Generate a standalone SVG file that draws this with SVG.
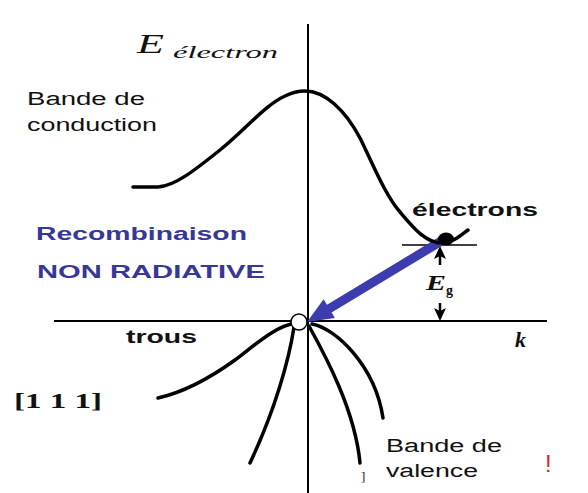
<svg xmlns="http://www.w3.org/2000/svg" width="588" height="493" viewBox="0 0 588 493">
<style>
.band{fill:none;stroke:#000;stroke-width:3.5;stroke-linecap:round;stroke-linejoin:round}
.axis{fill:none;stroke:#000;stroke-width:2}
.thin{fill:none;stroke:#000;stroke-width:1.3}
.head{fill:#000}
.sans{font-family:"Liberation Sans",Arial,sans-serif;fill:#111}
.bold{font-family:"Liberation Sans",Arial,sans-serif;font-weight:bold;fill:#111}
.blue{font-family:"Liberation Sans",Arial,sans-serif;font-weight:bold;fill:#373797}
.serif{font-family:"Liberation Serif","Times New Roman",serif;fill:#111}
</style>
<rect width="588" height="493" fill="#fff"/>
<g id="connectors">
<line class="axis" x1="308" y1="24" x2="308" y2="493"/>
<line class="axis" x1="54" y1="321" x2="547" y2="321"/>
<line class="thin" x1="402" y1="245" x2="477" y2="245"/>
<line x1="440" y1="265" x2="440" y2="255" stroke="#000" stroke-width="2.5"/>
<polygon class="head" points="440,246 446,259 440,256 434,259"/>
<line x1="440" y1="303" x2="440" y2="312" stroke="#000" stroke-width="2.5"/>
<polygon class="head" points="440,321 446,308 440,311 434,308"/>
<polygon id="recomb-arrow" points="307,322 323.6,299.2 327,304.7 440.7,236.1 445.3,243.9 331.6,312.5 335,318" fill="#3c3cae"/>
</g>
<g id="conduction-band">
<path class="band" d="M133,187 L158,187 C175,186 195,170 220,150 C245,130 265,105 285,96 C293,92 299,91 305,91 C325,91 345,110 360,138 C372,162 385,195 400,212 C412,226 425,243 442,243 C452,243 460,236 468,230"/>
</g>
<g id="valence-band">
<path class="band" d="M296,323 C275,326 255,345 235,360 C210,378 185,392 158,398"/>
<path class="band" d="M294,327 C289,360 275,410 250,463"/>
<path class="band" d="M309,326 C325,355 355,410 360,463"/>
<path class="band" d="M312,324 C335,328 375,365 383,418"/>
</g>
<g id="electron">
<ellipse cx="446" cy="239" rx="8" ry="6.5" fill="#000"/>
</g>
<g id="hole">
<circle cx="299" cy="322" r="8" fill="#fff" stroke="#000" stroke-width="1.5"/>
</g>
<g id="labels">
<text class="serif" x="137" y="53" font-size="28" font-style="italic" textLength="27" lengthAdjust="spacingAndGlyphs">E</text>
<text class="serif" x="173" y="58" font-size="16" font-style="italic" textLength="105" lengthAdjust="spacingAndGlyphs">électron</text>
<text class="sans" x="27" y="105" font-size="18" textLength="118" lengthAdjust="spacingAndGlyphs">Bande de</text>
<text class="sans" x="27" y="131" font-size="18" textLength="130" lengthAdjust="spacingAndGlyphs">conduction</text>
<text class="bold" x="412" y="216" font-size="18" textLength="126" lengthAdjust="spacingAndGlyphs">électrons</text>
<text class="blue" x="36" y="240" font-size="18" textLength="211" lengthAdjust="spacingAndGlyphs">Recombinaison</text>
<text class="blue" x="37" y="278" font-size="19" textLength="228" lengthAdjust="spacingAndGlyphs">NON RADIATIVE</text>
<text class="serif" x="426" y="290" font-size="22" font-style="italic" font-weight="bold" textLength="20" lengthAdjust="spacingAndGlyphs">E</text>
<text class="serif" x="446" y="295" font-size="14" font-weight="bold">g</text>
<text class="bold" x="126" y="343" font-size="18" textLength="71" lengthAdjust="spacingAndGlyphs">trous</text>
<text class="serif" x="515" y="347" font-size="22" font-style="italic" font-weight="bold">k</text>
<text class="serif" x="14" y="408" font-size="20" font-weight="bold" textLength="88" lengthAdjust="spacingAndGlyphs">[1 1 1]</text>
<text class="sans" x="386" y="452" font-size="18" textLength="116" lengthAdjust="spacingAndGlyphs">Bande de</text>
<text class="sans" x="386" y="477" font-size="18" textLength="92" lengthAdjust="spacingAndGlyphs">valence</text>
<text class="serif" x="361" y="481" font-size="13">]</text>
<text x="545" y="472" font-family="Liberation Sans,Arial,sans-serif" font-size="24" fill="#e02020">!</text>
</g>
</svg>
